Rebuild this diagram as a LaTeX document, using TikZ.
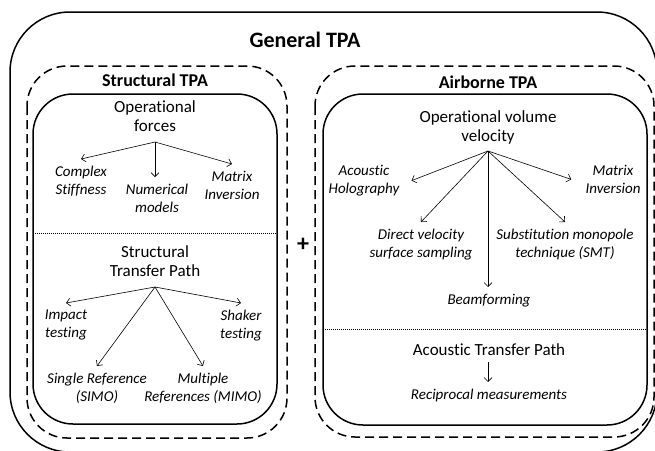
\documentclass[tikz,border=0pt]{standalone}
\usepackage{fontspec}
\setmainfont[Ligatures=NoCommon]{Carlito}
\usetikzlibrary{arrows.meta}

\tikzset{
  outerbox/.style={line width=1.5pt, rounded corners=60pt},
  tpabox/.style={line width=1.5pt, dash pattern=on 9pt off 5pt, rounded corners=40pt},
  innerbox/.style={line width=1.5pt, rounded corners=40pt},
  sepline/.style={line width=0.8pt, dash pattern=on 1pt off 1pt},
  arr/.style={line width=0.6pt, -{Straight Barb[length=4pt,width=8pt]}},
  title/.style={font=\bfseries\fontsize{22}{26}\selectfont},
  head/.style={font=\bfseries\fontsize{18}{22}\selectfont},
  quantity/.style={font=\fontsize{17}{19.5}\selectfont, align=center, anchor=north, inner sep=2pt},
  method/.style={font=\itshape\fontsize{15}{18}\selectfont, align=center, anchor=north, inner xsep=2pt, inner ysep=7pt},
}

\begin{document}
\begin{tikzpicture}[x=1pt, y=-1pt]
        \clip (0,0) rectangle (655,450);

        % Draw the boxes
        \draw[outerbox] (10,12) rectangle (657,452);
        \draw[tpabox] (27,66) rectangle (287,438);
        \draw[innerbox] (33,94) rectangle (277,424);
        \draw[tpabox] (315,66) rectangle (654,437);
        \draw[innerbox] (323,94) rectangle (647,425);
        \draw[sepline] (33,233) -- (277,233);
        \draw[sepline] (323,329) -- (647,329);

        % Titles
        \node[title] (gen) at (305,40) {General TPA};
        \node[head] (str) at (155,80) {Structural TPA};
        \node[head] (air) at (488,82) {Airborne TPA};
        \node[font=\bfseries\fontsize{24}{28}\selectfont] (plus) at (303,245) {+};

        % Structural TPA
        \node[quantity] (sf) at (155,98) {Operational\\forces};
        \coordinate (sfo) at (155,142);
        \node[method] (cs) at (81,159) {Complex\\Stiffness};
        \node[method] (nm) at (157,177) {Numerical\\models};
        \node[method] (smi) at (232,164) {Matrix\\Inversion};
        \draw[arr] (sfo) -- (cs.north);
        \draw[arr] (sfo) -- (sfo |- nm.north);
        \draw[arr] (sfo) -- (smi.north);

        \node[quantity] (stp) at (155,243) {Structural\\Transfer Path};
        \coordinate (sto) at (155,287);
        \node[method] (imp) at (66,303) {Impact\\testing};
        \node[method] (shk) at (241,303) {Shaker\\testing};
        \node[method] (simo) at (97,366) {Single Reference\\(SIMO)};
        \node[method] (mimo) at (203,366) {Multiple\\References (MIMO)};
        \draw[arr] (sto) -- (imp.north);
        \draw[arr] (sto) -- (shk.north);
        \draw[arr] (sto) -- (simo.north);
        \draw[arr] (sto) -- (mimo.north);

        % Airborne TPA
        \node[quantity] (ovv) at (488,108) {Operational volume\\velocity};
        \coordinate (avo) at (488,151);
        \node[method] (hol) at (364,158) {Acoustic\\Holography};
        \node[method] (ami) at (613,158) {Matrix\\Inversion};
        \node[method] (dvs) at (421,222) {Direct velocity\\surface sampling};
        \node[method] (smt) at (565,222) {Substitution monopole\\technique (SMT)};
        \node[method] (bf) at (489,287) {Beamforming};
        \draw[arr] (avo) -- ([xshift=10pt]hol.east);
        \draw[arr] (avo) -- ([xshift=-12pt]ami.west);
        \draw[arr] (avo) -- (dvs.north);
        \draw[arr] (avo) -- (smt.north);
        \draw[arr] (avo) -- (avo |- bf.north);

        \node[quantity] (atp) at (489,341) {Acoustic Transfer Path};
        \coordinate (ato) at (488,362);
        \node[method] (rec) at (489,382) {Reciprocal measurements};
        \draw[arr] (ato) -- (ato |- rec.north);
    \end{tikzpicture}
\end{document}
